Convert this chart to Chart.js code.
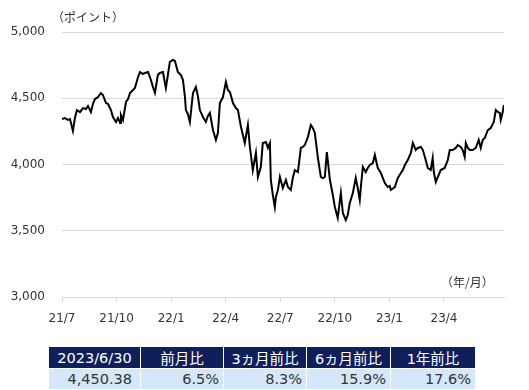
<!DOCTYPE html>
<html>
<head>
<meta charset="utf-8">
<script src="https://cdn.jsdelivr.net/npm/chart.js@4.4.0/dist/chart.umd.min.js"></script>
<style>
  body { margin: 0; background: #fff; }
  #wrap { position: relative; width: 529px; height: 390px; }
  #chartBox { position: absolute; left: 0; top: 0; width: 529px; height: 340px; }
  .note { position: absolute; font-family: "Noto Sans CJK JP", sans-serif; font-size: 12px; color: #333; white-space: nowrap; }
  table { position: absolute; left: 48px; top: 346px; border-collapse: separate; border-spacing: 1px; font-family: "DejaVu Sans", "Noto Sans CJK JP", sans-serif; font-size: 14.5px; }
  th { background: #0f1f5c; color: #fff; font-weight: normal; height: 21px; padding: 0; text-align: center; }
  td { background: #d5e8fb; color: #333; height: 20px; padding: 0 4px 0 0; text-align: right; }
  td.first { padding-right: 8px; }
</style>
</head>
<body>
<div id="wrap">
  <div id="chartBox"><canvas id="line-chart"></canvas></div>
  <div class="note" style="left:52px; top:8px;">（ポイント）</div>
  <div class="note" style="left:441px; top:273px;">（年/月）</div>
  <table id="summary"></table>
</div>
<script>
// months since 2021/7 and index level
const months = [
  0, 0.16, 0.33, 0.44, 0.60, 0.71, 0.82, 0.99, 1.15, 1.32, 1.43, 1.59, 1.70, 1.81, 1.98,
  2.14, 2.25, 2.42, 2.53, 2.69, 2.80, 2.97, 3.08, 3.19, 3.24, 3.35, 3.52, 3.63, 3.74, 3.85,
  4.01, 4.18, 4.29, 4.45, 4.56, 4.73, 4.89, 5.00, 5.11, 5.27, 5.38, 5.55, 5.71, 5.82, 5.93,
  6.10, 6.21, 6.37, 6.54, 6.65, 6.76, 6.81, 6.92, 7.03, 7.20, 7.36, 7.47, 7.58, 7.75, 7.91,
  8.02, 8.13, 8.30, 8.46, 8.57, 8.68, 8.85, 9.01, 9.12, 9.23, 9.40, 9.56, 9.67, 9.84, 10.05,
  10.22, 10.33, 10.49, 10.66, 10.77, 10.93, 11.04, 11.21, 11.32, 11.43, 11.48, 11.59, 11.70, 11.76, 11.87,
  11.98, 12.14, 12.31, 12.42, 12.58, 12.69, 12.80, 12.97, 13.13, 13.24, 13.35, 13.52, 13.68, 13.79, 13.90,
  14.07, 14.23, 14.34, 14.45, 14.56, 14.73, 14.89, 15.00, 15.16, 15.33, 15.44, 15.60, 15.71, 15.82, 15.99,
  16.15, 16.26, 16.37, 16.43, 16.54, 16.70, 16.81, 16.92, 17.09, 17.20, 17.36, 17.53, 17.64, 17.75, 17.91,
  18.02, 18.08, 18.30, 18.46, 18.63, 18.74, 18.85, 19.01, 19.18, 19.29, 19.45, 19.56, 19.73, 19.84, 19.95,
  20.11, 20.27, 20.38, 20.44, 20.55, 20.71, 20.82, 21.04, 21.21, 21.32, 21.48, 21.65, 21.76, 21.92, 22.03,
  22.14, 22.20, 22.31, 22.42, 22.58, 22.75, 22.91, 23.02, 23.13, 23.24, 23.41, 23.57, 23.74, 23.85, 23.96,
  24.07, 24.12, 24.23, 24.29
];
const values = [
  4343, 4351, 4336, 4343, 4253, 4351, 4411, 4396, 4426, 4419, 4442, 4396, 4457, 4494, 4509,
  4540, 4525, 4464, 4457, 4411, 4358, 4321, 4351, 4313, 4374, 4336, 4472, 4494, 4540, 4555,
  4577, 4660, 4698, 4683, 4691, 4698, 4638, 4585, 4540, 4675, 4691, 4698, 4577, 4675, 4774,
  4789, 4781, 4698, 4675, 4638, 4509, 4411, 4381, 4321, 4540, 4585, 4517, 4411, 4358, 4321,
  4366, 4389, 4260, 4185, 4238, 4464, 4509, 4623, 4562, 4547, 4464, 4426, 4411, 4283, 4162,
  4298, 4132, 3958, 4087, 3906, 3981, 4162, 4170, 4125, 4162, 3883, 3770, 3679, 3755, 3808,
  3906, 3823, 3883, 3830, 3808, 3898, 3958, 3943, 4125, 4132, 4147, 4208, 4298, 4275, 4238,
  4049, 3906, 3898, 3906, 4094, 3883, 3770, 3679, 3596, 3785, 3634, 3581, 3619, 3709, 3785,
  3898, 3823, 3732, 3830, 3981, 3943, 3974, 3996, 4011, 4072, 3974, 3936, 3898, 3860, 3830,
  3838, 3808, 3830, 3898, 3936, 3958, 3996, 4034, 4087, 4162, 4109, 4125, 4132, 4109, 4057,
  3974, 3958, 4049, 3943, 3868, 3921, 3958, 3974, 4034, 4109, 4109, 4125, 4147, 4132, 4109,
  4057, 4162, 4125, 4109, 4109, 4125, 4185, 4125, 4185, 4200, 4260, 4275, 4321, 4411, 4396,
  4389, 4336, 4396, 4450
];
const quarterTicks = [0, 3, 6, 9, 12, 15, 18, 21];
const quarterLabels = ['21/7', '21/10', '22/1', '22/4', '22/7', '22/10', '23/1', '23/4'];

// summary table
const tableHeads = ['2023/6/30', '前月比', '3ヵ月前比', '6ヵ月前比', '1年前比'];
const tableValues = ['4,450.38', '6.5%', '8.3%', '15.9%', '17.6%'];
const colWidths = [91, 82, 82, 83, 84];

const table = document.getElementById('summary');
table.innerHTML =
  '<tr>' + tableHeads.map((h, i) => `<th style="width:${colWidths[i]}px">${h}</th>`).join('') + '</tr>' +
  '<tr>' + tableValues.map((v, i) => `<td class="${i === 0 ? 'first' : ''}">${v}</td>`).join('') + '</tr>';

const gridColor = '#d9d9d9';
const tickFont = { family: 'DejaVu Sans', size: 12 };

new Chart(document.getElementById('line-chart').getContext('2d'), {
  type: 'line',
  data: {
    datasets: [{
      data: months.map((m, i) => ({ x: m, y: values[i] })),
      borderColor: '#000',
      borderWidth: 2,
      pointRadius: 0,
      tension: 0,
      fill: false,
    }]
  },
  options: {
    responsive: true,
    maintainAspectRatio: false,
    animation: false,
    layout: { padding: { top: 32, right: 25, left: 0, bottom: 0 } },
    plugins: {
      legend: { display: false },
      tooltip: { enabled: false },
    },
    scales: {
      x: {
        type: 'linear',
        min: 0,
        max: 24.3,
        afterBuildTicks: (scale) => { scale.ticks = quarterTicks.map(v => ({ value: v })); },
        afterFit: (scale) => { scale.height = 43; },
        ticks: {
          autoSkip: false,
          maxRotation: 0,
          padding: 10,
          color: '#333',
          font: tickFont,
          callback: (v) => quarterLabels[quarterTicks.indexOf(v)],
        },
        grid: { drawOnChartArea: false, drawTicks: true, tickLength: 5, color: gridColor },
        border: { display: true, color: gridColor },
      },
      y: {
        min: 3000,
        max: 5000,
        afterFit: (scale) => { scale.width = 62; },
        ticks: {
          stepSize: 500,
          padding: 17,
          color: '#333',
          font: tickFont,
          callback: (v) => v.toLocaleString('en-US'),
        },
        grid: { drawTicks: false, color: gridColor },
        border: { display: false },
      },
    },
  },
});
</script>
</body>
</html>
